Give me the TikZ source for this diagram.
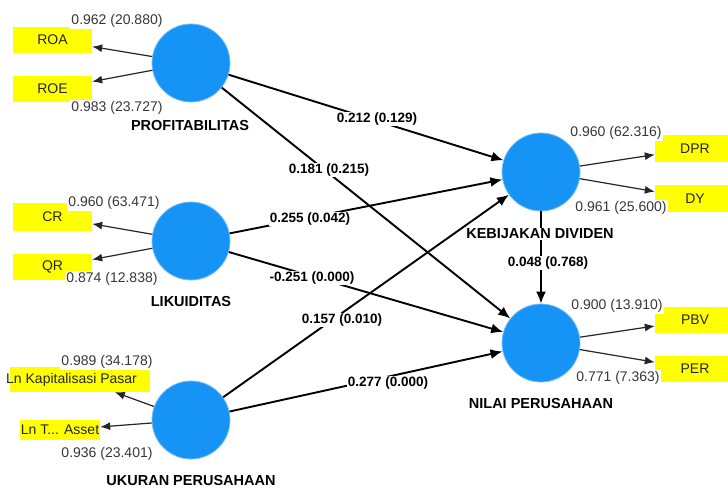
\documentclass[tikz,border=0pt]{standalone}
\usepackage{fontspec}
\setmainfont{Liberation Sans}
\usetikzlibrary{arrows.meta}
\definecolor{lvblue}{RGB}{22,148,245}
\definecolor{lvedge}{RGB}{120,190,250}
\definecolor{indyel}{RGB}{255,255,0}
\definecolor{lbl}{RGB}{55,55,55}
\begin{document}
\begin{tikzpicture}[x=1pt,y=-1pt,
  lv/.style={circle,fill=lvblue,draw=lvedge,line width=0.8pt,minimum size=78pt,inner sep=0pt},
  ybox/.style={rectangle,fill=indyel,inner sep=0pt,text=black!85,font=\fontsize{14}{16}\selectfont},
  lname/.style={fill=white,inner sep=1pt,font=\bfseries\fontsize{14.5}{16}\selectfont},
  plab/.style={fill=white,inner sep=1pt,font=\bfseries\fontsize{13.5}{15}\selectfont},
  llab/.style={fill=white,inner sep=1pt,text=lbl,font=\fontsize{14}{16}\selectfont},
  sarrow/.style={line width=1.9pt,-{Latex[length=12pt,width=10pt]}},
  iarrow/.style={line width=1.2pt,black!85,-{Latex[length=10pt,width=8pt]}}]
\clip (0,0) rectangle (728,489);
\fill[white] (0,0) rectangle (728,489);
% indicator boxes
\node[ybox,minimum width=79pt,minimum height=26pt] (roa) at (52.5,40) {ROA};
\node[ybox,minimum width=79pt,minimum height=26pt] (roe) at (52.5,89) {ROE};
\node[ybox,minimum width=79pt,minimum height=27pt] (cr) at (52.5,217) {CR};
\node[ybox,minimum width=79pt,minimum height=26pt] (qr) at (52.5,267) {QR};
\node[ybox,minimum width=140pt,minimum height=25pt] (lkp) at (80,379.5) {};
\node[ybox,fill=none,anchor=west] (lkptext) at (6,379.5) {Ln Kapitalisasi Pasar};
\node[ybox,minimum width=80pt,minimum height=20pt] (lta) at (60,430) {Ln T... Asset};
\node[ybox,minimum width=80pt,minimum height=27pt] (dpr) at (695,148.5) {DPR};
\node[ybox,minimum width=80pt,minimum height=27pt] (dy) at (695,198.5) {DY};
\node[ybox,minimum width=80pt,minimum height=26pt] (pbv) at (695,320) {PBV};
\node[ybox,minimum width=80pt,minimum height=26pt] (per) at (695,369) {PER};
% latent variables
\node[lv] (prof) at (191,63) {};
\node[lv] (lik) at (191,241) {};
\node[lv] (uk) at (191,420) {};
\node[lv] (keb) at (541,172) {};
\node[lv] (nil) at (541,343) {};
% indicator arrows
\draw[iarrow] (prof) -- (roa);
\draw[iarrow] (prof) -- (roe);
\draw[iarrow] (lik) -- (cr);
\draw[iarrow] (lik) -- (qr);
\draw[iarrow] (uk) -- (lkp);
\draw[iarrow] (uk) -- (lta);
\draw[iarrow] (keb) -- (dpr);
\draw[iarrow] (keb) -- (dy);
\draw[iarrow] (nil) -- (pbv);
\draw[iarrow] (nil) -- (per);
% structural arrows
\draw[sarrow] (prof) -- (keb);
\draw[sarrow] (prof) -- (nil);
\draw[sarrow] (lik) -- (keb);
\draw[sarrow] (lik) -- (nil);
\draw[sarrow] (uk) -- (keb);
\draw[sarrow] (uk) -- (nil);
\draw[sarrow] (keb) -- (nil);
% outer loading labels
\node[llab] (lroa) at (117,21) {0.962 (20.880)};
\node[llab] (lroe) at (117,108) {0.983 (23.727)};
\node[llab] (lcr) at (114,203) {0.960 (63.471)};
\node[llab] (lqr) at (112,279) {0.874 (12.838)};
\node[llab] (llkp) at (107,362) {0.989 (34.178)};
\node[llab] (llta) at (107,454) {0.936 (23.401)};
\node[llab] (ldpr) at (616,133) {0.960 (62.316)};
\node[llab] (ldy) at (621,208) {0.961 (25.600)};
\node[llab] (lpbv) at (617,306) {0.900 (13.910)};
\node[llab] (lper) at (618,378) {0.771 (7.363)};
% path coefficient labels
\node[plab] (p1) at (377,119) {0.212 (0.129)};
\node[plab] (p2) at (329,170) {0.181 (0.215)};
\node[plab] (p3) at (310,219) {0.255 (0.042)};
\node[plab] (p4) at (312,278) {-0.251 (0.000)};
\node[plab] (p5) at (342,320) {0.157 (0.010)};
\node[plab] (p6) at (388,383) {0.277 (0.000)};
\node[plab] (p7) at (548,263) {0.048 (0.768)};
% construct names
\node[lname] (nprof) at (190,126) {PROFITABILITAS};
\node[lname] (nlik) at (191,302) {LIKUIDITAS};
\node[lname] (nuk) at (191,481) {UKURAN PERUSAHAAN};
\node[lname] (nkeb) at (540,234) {KEBIJAKAN DIVIDEN};
\node[lname] (nnil) at (541,404) {NILAI PERUSAHAAN};
\end{tikzpicture}
\end{document}
